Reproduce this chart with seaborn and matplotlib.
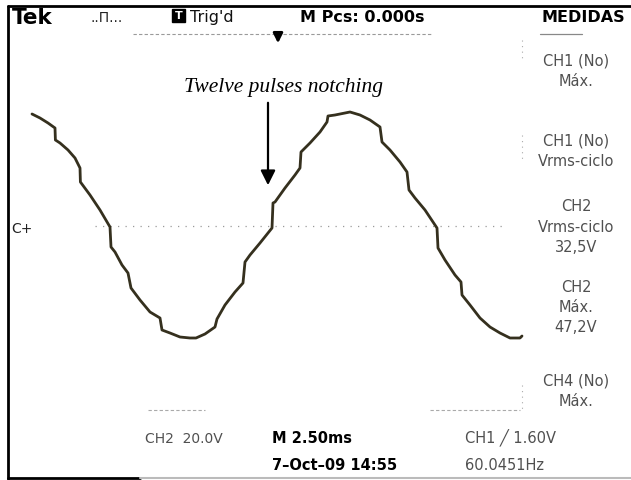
import matplotlib
matplotlib.use("Agg")
import matplotlib.pyplot as plt
import seaborn as sns
import pandas as pd

# ---- data (time in ms, voltage in V) ----
time_ms = [0.25, 0.65, 1.05, 1.40, 1.42, 1.65, 2.05, 2.40, 2.65, 2.67, 3.15, 3.65,
           4.15, 4.20, 4.40, 4.75, 5.05, 5.20, 5.65, 6.15, 6.65, 6.75, 7.15, 7.65,
           8.15, 8.45, 8.90, 9.40, 9.50, 9.90, 10.40, 10.80, 10.90, 11.15, 11.65,
           12.25, 12.30, 12.40, 12.90, 13.40, 13.65, 13.70, 14.15, 14.65, 15.00,
           15.05, 15.40, 15.90, 16.15, 16.65, 17.15, 17.65, 17.75, 18.15, 18.65,
           19.00, 19.10, 19.40, 19.90, 20.50, 20.55, 20.90, 21.40, 21.70, 21.75,
           22.15, 22.65, 23.15, 23.65, 24.15, 24.65, 24.75]
volts = [44.8, 43.2, 41.2, 39.2, 34.4, 33.2, 30.4, 27.2, 23.2, 17.6, 12.4, 6.4,
         -0.4, -8.4, -10.4, -15.6, -18.8, -24.8, -29.6, -34.4, -36.8, -41.6, -42.8, -44.4,
         -44.8, -44.8, -43.2, -40.4, -37.2, -31.6, -26.4, -22.8, -14.4, -11.6, -6.8,
         -0.8, 9.2, 9.6, 15.2, 20.4, 23.2, 29.6, 33.2, 37.6, 41.6,
         44.0, 44.4, 45.2, 45.6, 44.4, 42.4, 39.6, 33.6, 30.4, 25.6,
         21.6, 14.4, 11.2, 6.4, -0.8, -8.8, -13.6, -19.6, -22.4, -27.6,
         -31.6, -36.8, -40.4, -42.8, -44.8, -44.8, -44.0]

header_labels = ["Tek", "..Π...", "Trig'd", "M Pcs: 0.000s", "MEDIDAS"]
side_labels = ["CH1 (No)", "Máx.", "CH1 (No)", "Vrms-ciclo", "CH2", "Vrms-ciclo",
               "32,5V", "CH2", "Máx.", "47,2V", "CH4 (No)", "Máx."]
bottom_labels = ["CH2  20.0V", "M 2.50ms", "7–Oct–09 14:55", "CH1 ╱ 1.60V", "60.0451Hz"]
annotation = "Twelve pulses notching"

sns.set_theme(style="white")
plt.rcParams["font.family"] = ["DejaVu Sans"]

df = pd.DataFrame({"t": time_ms, "v": volts})

fig = plt.figure(figsize=(6.31, 4.80), dpi=100)
fig.patch.set_facecolor("white")

# scope screen axes: 10 div x 2.5 ms, 8 div x 20 V
ax = fig.add_axes([27 / 631, 54 / 480, 500 / 631, 400 / 480])
ax.set_xlim(0, 25)
ax.set_ylim(-80, 80)
ax.axis("off")
ax.hlines(0, 3.4, 24.0, colors="#9a9a9a", linestyles=(0, (1, 5)), lw=0.9)
sns.lineplot(data=df, x="t", y="v", sort=False, estimator=None, ax=ax,
             color="#35301e", lw=2.0)

# overlay in pixel coordinates
ov = fig.add_axes([0, 0, 1, 1])
ov.set_xlim(0, 631)
ov.set_ylim(480, 0)
ov.axis("off")
ov.patch.set_alpha(0)

# frame
ov.plot([8, 8], [6, 479], color="black", lw=2)
ov.plot([8, 631], [6, 6], color="black", lw=2)
ov.plot([8, 140], [478, 478], color="black", lw=2)
ov.plot([140, 631], [478, 478], color="#bbbbbb", lw=1.5)

# faint rulers
ov.plot([133, 432], [34, 34], color="#9a9a9a", lw=0.8, linestyle=(0, (3, 2)))
ov.plot([540, 582], [34, 34], color="#888888", lw=0.9)
ov.plot([148, 205], [410, 410], color="#aaaaaa", lw=0.8, linestyle=(0, (3, 2)))
ov.plot([430, 520], [410, 410], color="#aaaaaa", lw=0.8, linestyle=(0, (3, 2)))
for y0, y1 in [(40, 62), (135, 160), (385, 412)]:
    ov.plot([522, 522], [y0, y1], color="#aaaaaa", lw=0.8, linestyle=(0, (1, 4)))

# header
ov.text(12, 24, header_labels[0], fontsize=15.5, fontweight="bold", color="black", va="baseline")
ov.text(90, 22, header_labels[1], fontsize=10, color="#222222", va="baseline")
ov.add_patch(plt.Rectangle((172, 9), 13, 13, color="black"))
ov.text(178.5, 16, "T", fontsize=8, fontweight="bold", color="white", ha="center", va="center")
ov.text(190, 22, header_labels[2], fontsize=11.5, color="#111111", va="baseline")
ov.text(300, 22, header_labels[3], fontsize=11.5, fontweight="semibold", color="black", va="baseline")
ov.text(583, 22, header_labels[4], fontsize=11.5, fontweight="semibold", color="black",
        va="baseline", ha="center")
ov.annotate("", xy=(278, 46), xytext=(278, 30),
            arrowprops=dict(arrowstyle="-|>", color="black", lw=2, mutation_scale=14))

# annotation
ov.text(284, 92, annotation, fontsize=15.5, fontstyle="italic", family="Liberation Serif",
        color="black", ha="center", va="baseline")
ov.annotate("", xy=(268, 188), xytext=(268, 100),
            arrowprops=dict(arrowstyle="-|>", color="black", lw=1.6, mutation_scale=22))

# ground marker
ov.text(11, 233, "C+", fontsize=10, color="#222222", va="baseline")

# side panel
side_y = [66, 86, 146, 166, 211, 232, 252, 292, 312, 332, 386, 406]
for lab, y in zip(side_labels, side_y):
    ov.text(576, y, lab, fontsize=10.5, color="#505050", ha="center", va="baseline")

# bottom
ov.text(145, 443, bottom_labels[0], fontsize=10, color="#505050", va="baseline")
ov.text(272, 443, bottom_labels[1], fontsize=10.5, fontweight="semibold", color="black", va="baseline")
ov.text(272, 470, bottom_labels[2], fontsize=10.5, fontweight="semibold", color="black", va="baseline")
ov.text(465, 443, bottom_labels[3], fontsize=10.5, color="#505050", va="baseline")
ov.text(465, 470, bottom_labels[4], fontsize=10.5, color="#505050", va="baseline")

fig.savefig("out.png", dpi=100, facecolor="white")
